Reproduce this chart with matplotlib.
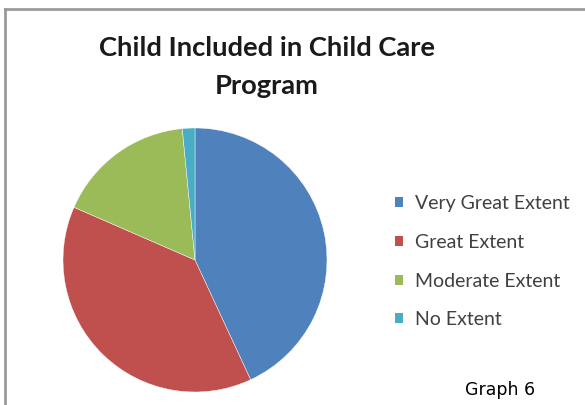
import matplotlib
matplotlib.use("Agg")
import matplotlib.pyplot as plt
from matplotlib.lines import Line2D
from matplotlib.patches import Patch

categories = ["Very Great Extent", "Great Extent", "Moderate Extent", "No Extent"]
values = [28, 25, 11, 1]
colors = ["#4F81BD", "#C0504D", "#9BBB59", "#4BACC6"]
title = "Child Included in Child Care\nProgram"
caption = "Graph 6"

fig = plt.figure(figsize=(5.85, 4.05), dpi=100)
fig.patch.set_facecolor("white")

# chart frame (left and top only visible)
fig.add_artist(Line2D([5/585, 5/585], [0, 1 - 9/405], transform=fig.transFigure,
                      color="#9a9a9a", lw=2))
fig.add_artist(Line2D([5/585, 1], [1 - 9/405, 1 - 9/405], transform=fig.transFigure,
                      color="#9a9a9a", lw=2))

ax = fig.add_axes([63/585, 13/405, 264/585, 264/405])
wedges, _ = ax.pie(values, colors=colors, startangle=90, counterclock=False,
                   radius=1, wedgeprops=dict(linewidth=0.3, edgecolor="white"))
ax.set_xlim(-1, 1)
ax.set_ylim(-1, 1)
ax.set_aspect("equal")
ax.axis("off")

fig.text(267/585, 1 - 67/405, title, ha="center", va="center",
         fontsize=19.7, fontweight="bold", family="Lato", linespacing=1.7,
         color="#1a1a1a")

handles = [Patch(facecolor=c, edgecolor="none") for c in colors]
leg = fig.legend(handles, categories, loc="upper left",
                 bbox_to_anchor=(395/585, 1 - 195/405), frameon=False,
                 prop=dict(family="Lato", size=14), labelspacing=1.12,
                 handlelength=0.42, handleheight=0.42, handletextpad=0.6,
                 borderpad=0, borderaxespad=0)
for t in leg.get_texts():
    t.set_color("#404040")

fig.text(500/585, 1 - 390/405, caption, ha="center", va="center",
         fontsize=12.5, family="DejaVu Sans", color="black")

fig.savefig("out.png", dpi=100)
